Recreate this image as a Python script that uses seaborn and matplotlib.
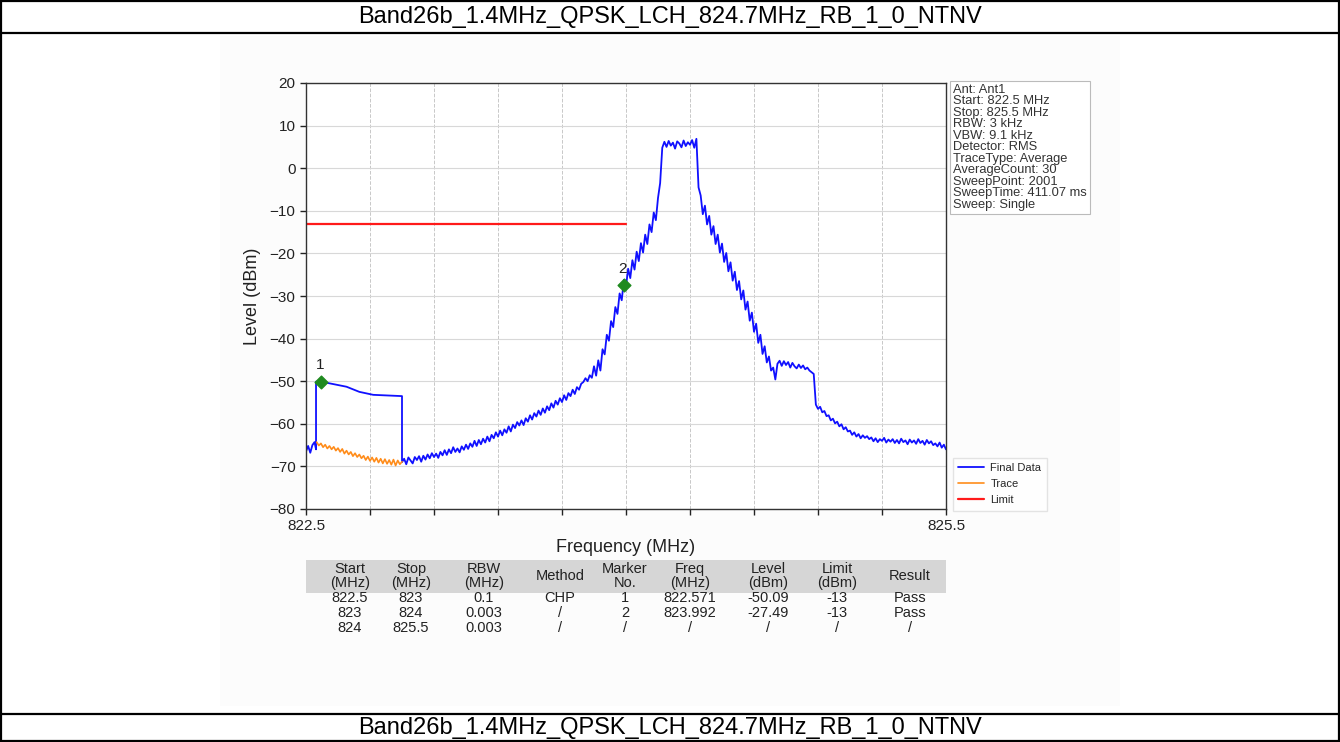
import numpy as np
import pandas as pd
import matplotlib
matplotlib.use("Agg")
import matplotlib.pyplot as plt
from matplotlib.lines import Line2D
from matplotlib.patches import Rectangle
import seaborn as sns

# ---------------- data ----------------
title = "Band26b_1.4MHz_QPSK_LCH_824.7MHz_RB_1_0_NTNV"

# Final Data: low-edge noise before channel-power block
fd_low_freq = [822.50, 822.51, 822.52, 822.53, 822.54, 822.547]
fd_low_level = [-66.5, -65.2, -66.8, -65.0, -64.3, -66.0]
# channel power (CHP) block 822.547 .. 822.95
chp_freq = [822.547, 822.59, 822.69, 822.75, 822.815, 822.95]
chp_level = [-50.1, -50.3, -51.3, -52.5, -53.2, -53.5]
# Final Data: swept trace 822.95 .. 825.50, 0.01 MHz step
fd_main_start = 822.95
fd_main_step = 0.01
fd_main_level = [
    -69.0, -68.2, -69.5, -67.9, -68.6, -69.3, -67.8, -68.5, -67.6, -68.9,
    -67.5, -68.4, -67.2, -68.1, -66.9, -67.8, -67.0, -68.0, -66.6, -67.4,
    -66.2, -67.3, -66.0, -66.9, -65.5, -66.6, -65.8, -66.7, -65.3, -66.1,
    -64.9, -65.9, -64.6, -65.4, -64.0, -65.2, -63.8, -64.8, -63.5, -64.4,
    -63.0, -64.1, -62.6, -63.4, -62.0, -63.0, -61.6, -62.7, -61.3, -62.1,
    -60.6, -61.8, -60.2, -61.0, -59.6, -60.4, -59.2, -60.3, -58.7, -59.5,
    -58.0, -59.0, -57.5, -58.3, -56.9, -57.9, -56.4, -57.4, -55.9, -56.8,
    -55.2, -56.2, -54.6, -55.5, -54.0, -54.9, -53.3, -54.4, -52.8, -53.5,
    -52.0, -53.0, -51.4, -52.0, -50.6, -50.2, -49.3, -50.0, -48.6, -49.2,
    -46.5, -48.7, -45.1, -47.5, -42.5, -43.7, -39.1, -40.5, -35.9, -37.3,
    -32.6, -34.2, -29.4, -31.0, -26.2, -27.8, -23.6, -25.8, -21.6, -23.8,
    -19.6, -21.8, -17.6, -19.8, -15.6, -17.8, -13.2, -15.0, -10.4, -12.2,
    -7.0, -3.5, 4.8, 6.2, 5.0, 6.4, 5.3, 6.0, 4.6, 6.3,
    5.8, 4.9, 6.5, 5.2, 6.1, 5.5, 6.6, 4.8, 6.9, -4.5,
    -6.4, -10.8, -8.8, -13.2, -11.2, -15.6, -13.6, -17.8, -15.6, -19.8,
    -17.7, -22.0, -19.9, -24.2, -22.1, -26.4, -24.3, -28.6, -26.5, -30.8,
    -28.7, -33.2, -31.3, -35.8, -33.9, -38.4, -36.5, -41.0, -39.1, -43.6,
    -41.8, -45.6, -44.2, -47.5, -46.8, -49.6, -45.9, -45.2, -46.4, -45.3,
    -46.2, -45.5, -46.8, -45.7, -46.5, -47.0, -46.1, -46.9, -46.3, -47.2,
    -46.8, -47.5, -47.9, -48.3, -55.5, -56.5, -56.0, -57.3, -57.0, -58.2,
    -58.0, -59.2, -58.8, -59.9, -59.5, -60.6, -60.1, -61.3, -60.8, -61.8,
    -61.6, -62.6, -62.0, -63.0, -62.4, -63.4, -62.7, -63.3, -62.9, -63.6,
    -63.2, -64.1, -63.4, -64.3, -63.6, -64.0, -63.3, -64.4, -63.7, -64.2,
    -63.6, -64.5, -63.8, -64.6, -63.5, -64.3, -63.9, -64.8, -63.7, -64.4,
    -63.9, -64.7, -63.6, -64.5, -64.0, -64.9, -63.8, -64.6, -64.1, -65.0,
    -64.6, -65.3, -64.4, -65.6, -64.9, -66.0,
]
# Trace (orange) 822.55 .. 822.95, 0.01 MHz step
trace_start = 822.55
trace_step = 0.01
trace_level = [
    -64.3, -65.1, -64.6, -65.5, -64.9, -65.8, -65.2, -66.0, -65.4, -66.3,
    -65.7, -66.6, -65.9, -67.0, -66.3, -67.2, -66.6, -67.6, -66.9, -67.8,
    -67.2, -68.1, -67.5, -68.5, -67.7, -68.7, -67.9, -68.9, -68.0, -69.1,
    -68.2, -69.3, -68.3, -69.4, -68.5, -69.6, -68.4, -69.8, -68.6, -69.5, -68.9,
]
limit_freq = [822.5, 824.0]
limit_level = [-13, -13]

marker_no = ["1", "2"]
marker_freq = [822.571, 823.992]
marker_level = [-50.09, -27.49]

x_ticks = [822.5, 822.8, 823.1, 823.4, 823.7, 824.0, 824.3, 824.6, 824.9, 825.2, 825.5]
x_tick_labels = ["822.5", "", "", "", "", "", "", "", "", "", "825.5"]
y_ticks = [-80, -70, -60, -50, -40, -30, -20, -10, 0, 10, 20]

info_lines = ["Ant: Ant1", "Start: 822.5 MHz", "Stop: 825.5 MHz", "RBW: 3 kHz",
              "VBW: 9.1 kHz", "Detector: RMS", "TraceType: Average",
              "AverageCount: 30", "SweepPoint: 2001", "SweepTime: 411.07 ms",
              "Sweep: Single"]

table_header = ["Start\n(MHz)", "Stop\n(MHz)", "RBW\n(MHz)", "Method", "Marker\nNo.",
                "Freq\n(MHz)", "Level\n(dBm)", "Limit\n(dBm)", "Result"]
table_rows = [
    ["822.5", "823", "0.1", "CHP", "1", "822.571", "-50.09", "-13", "Pass"],
    ["823", "824", "0.003", "/", "2", "823.992", "-27.49", "-13", "Pass"],
    ["824", "825.5", "0.003", "/", "/", "/", "/", "/", "/"],
]

# ---------------- build frames ----------------
fd_main_freq = [fd_main_start + i * fd_main_step for i in range(len(fd_main_level))]
final_df = pd.DataFrame({
    "freq": fd_low_freq + chp_freq + fd_main_freq,
    "level": fd_low_level + chp_level + fd_main_level,
})
trace_df = pd.DataFrame({
    "freq": [trace_start + i * trace_step for i in range(len(trace_level))],
    "level": trace_level,
})
limit_df = pd.DataFrame({"freq": limit_freq, "level": limit_level})

# ---------------- style ----------------
sns.set_style("white")
plt.rcParams["font.family"] = ["Liberation Sans", "DejaVu Sans"]

W, H = 1340, 742
fig = plt.figure(figsize=(W / 100, H / 100), dpi=100)


def fx(px):
    return px / W


def fy(py):
    return 1 - py / H


# faint pasted-image background
fig.add_artist(Rectangle((fx(220), fy(706)), fx(1120) - fx(220), fy(36) - fy(706),
                         transform=fig.transFigure, fc="#fcfcfc", ec="none", zorder=0))

ax = fig.add_axes([fx(306), fy(509), (946 - 306) / W, (509 - 83) / H])
ax.set_facecolor("white")

sns.lineplot(data=final_df, x="freq", y="level", ax=ax, color="#1010ff", lw=1.3,
             sort=False, estimator=None, label="Final Data")
sns.lineplot(data=trace_df, x="freq", y="level", ax=ax, color="#ff8c1a", lw=1.2,
             sort=False, estimator=None, label="Trace")
sns.lineplot(data=limit_df, x="freq", y="level", ax=ax, color="#ff1a1a", lw=1.6,
             sort=False, estimator=None, label="Limit")

ax.scatter(marker_freq, marker_level, marker="D", s=42, color="#1f8a1f", zorder=5)
for n, f, l in zip(marker_no, marker_freq, marker_level):
    ax.annotate(n, (f, l), textcoords="offset points", xytext=(-1, 7),
                ha="center", va="bottom", fontsize=11, color="#222222")

ax.set_xlim(822.5, 825.5)
ax.set_ylim(-80, 20)
ax.set_xticks(x_ticks)
ax.set_xticklabels(x_tick_labels)
ax.set_yticks(y_ticks)
ax.tick_params(axis="both", direction="out", length=4, width=1, colors="#222222",
               labelsize=11, bottom=True, left=True)
ax.grid(True, axis="x", color="#c8c8c8", linestyle="--", linewidth=0.7)
ax.grid(True, axis="y", color="#d8d8d8", linestyle="-", linewidth=0.8)
for s in ax.spines.values():
    s.set_color("#333333")
    s.set_linewidth(1.0)
ax.set_xlabel("Frequency (MHz)", fontsize=13, labelpad=4, color="#222222")
ax.set_ylabel("Level (dBm)", fontsize=13, labelpad=6, color="#222222")

handles, labels = ax.get_legend_handles_labels()
ax.legend_.remove()
fig.legend(handles, labels, loc="upper left", bbox_to_anchor=(fx(947), fy(452)),
           fontsize=8, handlelength=2.3, handletextpad=0.6, frameon=True,
           fancybox=False, edgecolor="#dddddd", borderpad=0.5, labelspacing=0.55)

# info box
fig.text(fx(953), fy(84), "\n".join(info_lines), ha="left", va="top", fontsize=9.3,
         linespacing=0.94, color="#333333",
         bbox=dict(boxstyle="square,pad=0.25", fc="white", ec="#bbbbbb", lw=0.8))

# results table
col_x = [350, 411, 484, 560, 625, 690, 768, 837, 910]
fig.add_artist(Rectangle((fx(306), fy(593)), fx(946) - fx(306), fy(560) - fy(593),
                         transform=fig.transFigure, fc="#d6d6d6", ec="none", zorder=1))
for cx, h in zip(col_x, table_header):
    fig.text(fx(cx), fy(576), h, ha="center", va="center", fontsize=10.5,
             linespacing=0.95, color="#222222", zorder=2)
for r, row in enumerate(table_rows):
    for cx, v in zip(col_x, row):
        fig.text(fx(cx), fy(598 + 15 * r), v, ha="center", va="center",
                 fontsize=10.5, color="#222222")

# document frame & titles
lw = 1.6
for y in (1, 33, 714, 741):
    fig.add_artist(Line2D([0, 1], [fy(y), fy(y)], transform=fig.transFigure,
                          color="black", lw=lw))
for x in (1, 1338.5):
    fig.add_artist(Line2D([fx(x), fx(x)], [0, 1], transform=fig.transFigure,
                          color="black", lw=lw))
fig.text(0.5, fy(17), title, ha="center", va="center", fontsize=17, color="black")
fig.text(0.5, fy(728), title, ha="center", va="center", fontsize=17, color="black")

fig.savefig("out.png", dpi=100)
